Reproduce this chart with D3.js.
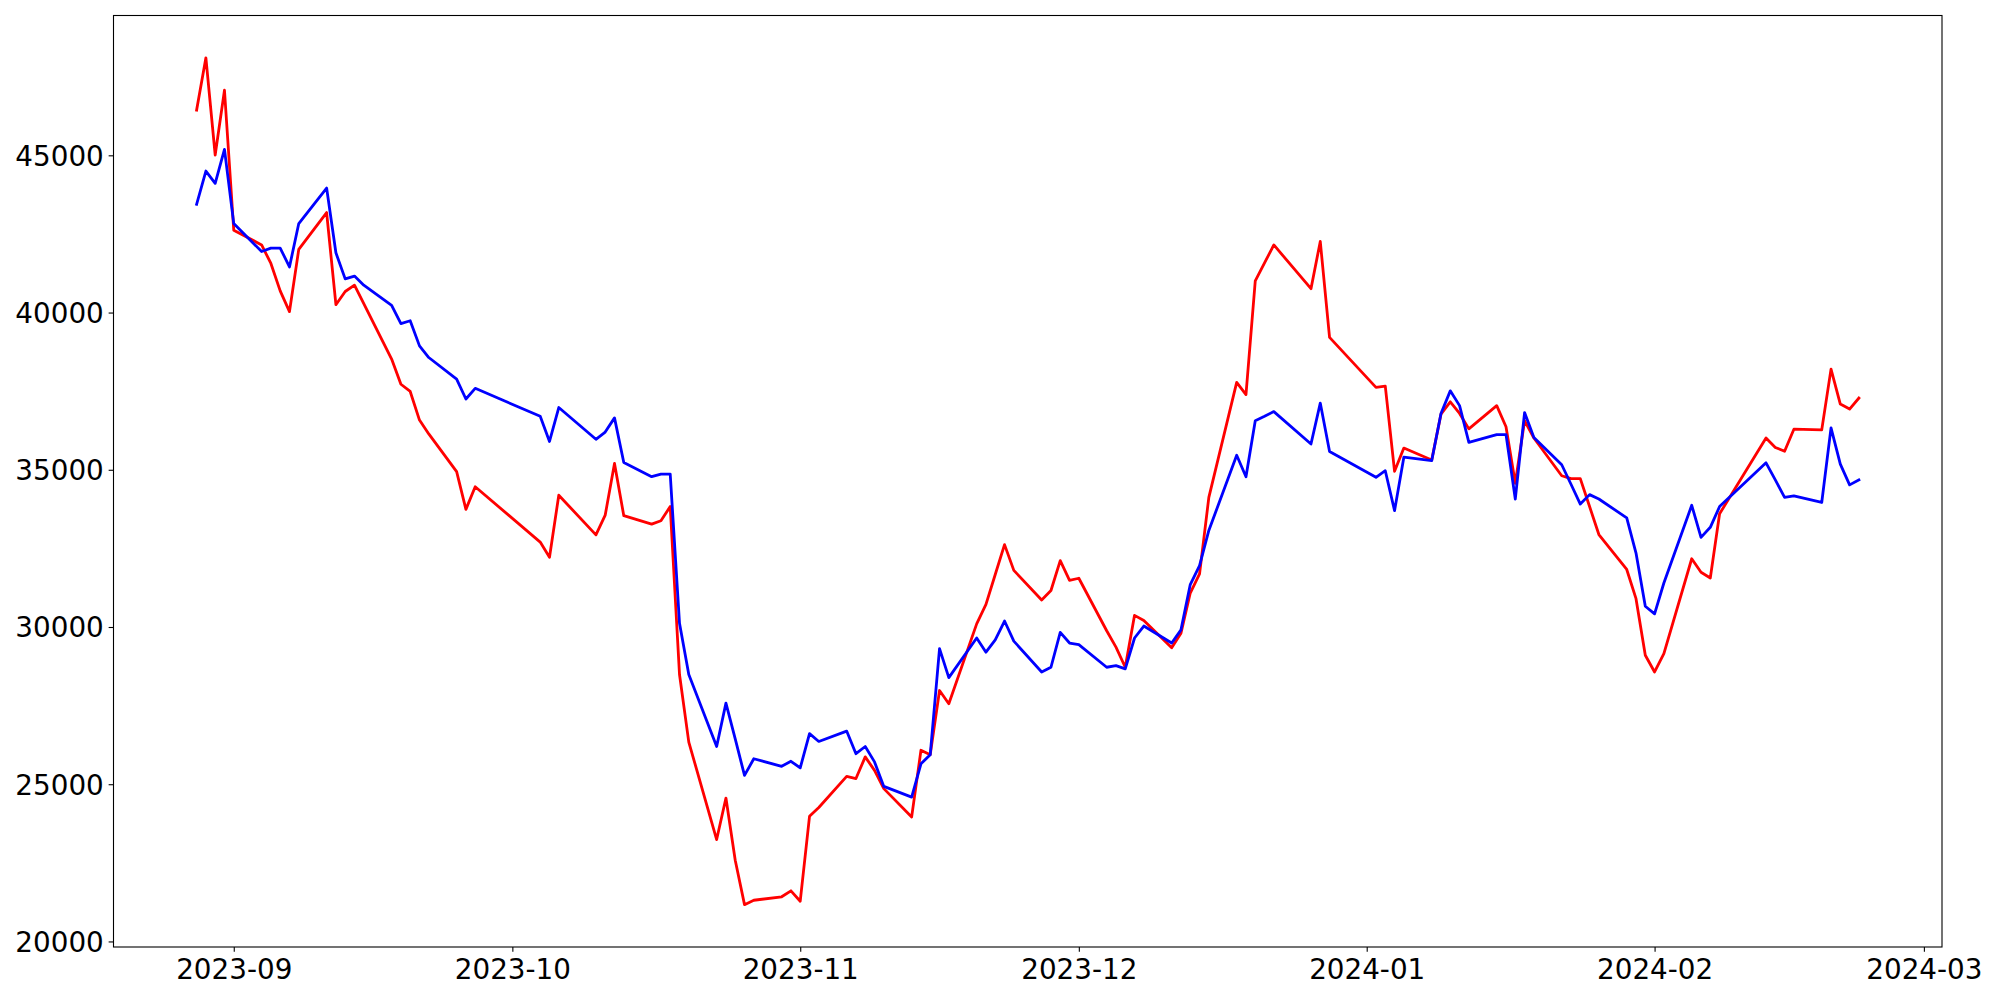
<!DOCTYPE html>
<html>
<head>
<meta charset="utf-8">
<script src="https://cdn.jsdelivr.net/npm/d3@7"></script>
<style>
  html, body { margin: 0; padding: 0; background: #ffffff; }
  svg { display: block; }
  text { font-family: "DejaVu Sans", sans-serif; fill: #000; }
</style>
</head>
<body>
<svg id="chart" width="2000" height="1000"></svg>
<script>
// ---- data ----
const dates = [
  "2023-08-28","2023-08-29","2023-08-30","2023-08-31",
  "2023-09-01","2023-09-04","2023-09-05","2023-09-06","2023-09-07","2023-09-08",
  "2023-09-11","2023-09-12","2023-09-13","2023-09-14","2023-09-15",
  "2023-09-18","2023-09-19","2023-09-20","2023-09-21","2023-09-22",
  "2023-09-25","2023-09-26","2023-09-27",
  "2023-10-04","2023-10-05","2023-10-06",
  "2023-10-10","2023-10-11","2023-10-12","2023-10-13",
  "2023-10-16","2023-10-17","2023-10-18","2023-10-19","2023-10-20",
  "2023-10-23","2023-10-24","2023-10-25","2023-10-26","2023-10-27",
  "2023-10-30","2023-10-31","2023-11-01","2023-11-02","2023-11-03",
  "2023-11-06","2023-11-07","2023-11-08","2023-11-09","2023-11-10",
  "2023-11-13","2023-11-14","2023-11-15","2023-11-16","2023-11-17",
  "2023-11-20","2023-11-21","2023-11-22","2023-11-23","2023-11-24",
  "2023-11-27","2023-11-28","2023-11-29","2023-11-30","2023-12-01",
  "2023-12-04","2023-12-05","2023-12-06","2023-12-07","2023-12-08",
  "2023-12-11","2023-12-12","2023-12-13","2023-12-14","2023-12-15",
  "2023-12-18","2023-12-19","2023-12-20","2023-12-21","2023-12-22",
  "2023-12-26","2023-12-27","2023-12-28",
  "2024-01-02","2024-01-03","2024-01-04","2024-01-05",
  "2024-01-08","2024-01-09","2024-01-10","2024-01-11","2024-01-12",
  "2024-01-15","2024-01-16","2024-01-17","2024-01-18","2024-01-19",
  "2024-01-22","2024-01-23","2024-01-24","2024-01-25","2024-01-26",
  "2024-01-29","2024-01-30","2024-01-31","2024-02-01","2024-02-02",
  "2024-02-05","2024-02-06","2024-02-07","2024-02-08",
  "2024-02-13","2024-02-14","2024-02-15","2024-02-16",
  "2024-02-19","2024-02-20","2024-02-21","2024-02-22","2024-02-23"
];

const redValues = [
  46440,48100,45010,47070,
  42620,42150,41560,40690,40030,42010,
  43180,40250,40670,40870,40280,
  38520,37720,37490,36580,36140,
  34940,33740,34460,
  32700,32220,34190,
  32930,33560,35200,33540,
  33270,33380,33830,28490,26340,
  23240,24560,22580,21170,21310,
  21420,21610,21280,23980,24260,
  25250,25180,25870,25440,24860,
  23960,26080,25940,27980,27560,
  30100,30720,31670,32620,31800,
  30860,31160,32110,31480,31550,
  29880,29360,28720,30370,30210,
  29340,29800,31080,31690,34120,
  37780,37390,41010,41580,42150,
  40760,42260,39210,
  37620,37660,34950,35690,
  35310,36770,37160,36790,36300,
  37040,36370,34570,36560,36010,
  34810,34720,34720,33830,32940,
  31830,30900,29100,28570,29150,
  32170,31740,31560,33600,
  36010,35710,35590,36290,
  36270,38200,37090,36930,37280
];

const blueValues = [
  43440,44500,44110,45190,
  42830,41940,42050,42050,41450,42830,
  43960,41900,41070,41160,40870,
  40230,39650,39740,38940,38570,
  37880,37250,37590,
  36700,35900,36980,
  35970,36200,36650,35230,
  34780,34860,34860,30120,28490,
  26200,27580,26440,25280,25810,
  25570,25730,25520,26610,26360,
  26690,25970,26200,25710,24930,
  24590,25650,25940,29310,28390,
  29650,29200,29590,30190,29550,
  28570,28720,29830,29490,29440,
  28720,28770,28670,29650,30030,
  29490,29910,31350,31950,33070,
  35460,34780,36560,36700,36850,
  35820,37120,35580,
  34760,34970,33700,35400,
  35290,36790,37510,37040,35870,
  36120,36120,34070,36820,36030,
  35160,34540,33910,34210,34070,
  33470,32350,30660,30420,31400,
  33870,32850,33170,33830,
  35220,34680,34120,34170,
  33960,36330,35180,34520,34680
];

const yTicks = [20000, 25000, 30000, 35000, 40000, 45000];
const xTickLabels = ["2023-09","2023-10","2023-11","2023-12","2024-01","2024-02","2024-03"];

// ---- layout ----
const W = 2000, H = 1000;
const plot = { left: 113.5, right: 1942, top: 15.5, bottom: 947 };
const fontPx = 27.8;
const tickLen = 4.86, tickPad = 4.86;

const parse = d3.timeParse("%Y-%m-%d");
const parseMonth = d3.timeParse("%Y-%m");
const fmtMonth = d3.timeFormat("%Y-%m");
const t = dates.map(parse);

// matplotlib-style 5% margins
const [t0, t1] = d3.extent(t);
const padT = (t1 - t0) * 0.05;
const allVals = redValues.concat(blueValues);
const [v0, v1] = d3.extent(allVals);
const padV = (v1 - v0) * 0.05;

const x = d3.scaleTime()
  .domain([new Date(+t0 - padT), new Date(+t1 + padT)])
  .range([plot.left, plot.right]);
const y = d3.scaleLinear()
  .domain([v0 - padV, v1 + padV])
  .range([plot.bottom, plot.top]);

const svg = d3.select("#chart");
svg.append("rect").attr("width", W).attr("height", H).attr("fill", "#fff");

svg.append("defs").append("clipPath").attr("id", "clip")
  .append("rect")
  .attr("x", plot.left).attr("y", plot.top)
  .attr("width", plot.right - plot.left).attr("height", plot.bottom - plot.top);

const line = d3.line().x(d => x(d[0])).y(d => y(d[1]));
const g = svg.append("g").attr("clip-path", "url(#clip)");
const series = [
  { values: redValues, color: "#ff0000" },
  { values: blueValues, color: "#0000ff" }
];
series.forEach(s => {
  g.append("path")
    .datum(t.map((d, i) => [d, s.values[i]]))
    .attr("d", line)
    .attr("fill", "none")
    .attr("stroke", s.color)
    .attr("stroke-width", 2.8)
    .attr("stroke-linejoin", "round")
    .attr("stroke-linecap", "square");
});

// axes
const xAxis = d3.axisBottom(x)
  .tickValues(xTickLabels.map(parseMonth))
  .tickFormat(fmtMonth)
  .tickSize(tickLen).tickPadding(tickPad);
const yAxis = d3.axisLeft(y)
  .tickValues(yTicks)
  .tickFormat(d3.format("d"))
  .tickSize(tickLen).tickPadding(tickPad);

const gx = svg.append("g").attr("transform", `translate(0,${plot.bottom})`).call(xAxis);
const gy = svg.append("g").attr("transform", `translate(${plot.left},0)`).call(yAxis);

[gx, gy].forEach(a => {
  a.select(".domain").remove();
  a.selectAll(".tick line").attr("stroke", "#000").attr("stroke-width", 1.1);
  a.selectAll(".tick text")
    .style("font-family", "'DejaVu Sans', sans-serif")
    .style("font-size", fontPx + "px")
    .attr("fill", "#000");
});
gx.selectAll(".tick text").attr("dy", null).attr("y", 32.3)
  .attr("dominant-baseline", "alphabetic");
gy.selectAll(".tick text").attr("dy", null).attr("y", 10)
  .attr("x", -(tickLen + tickPad)).attr("dominant-baseline", "alphabetic");

// frame
svg.append("rect")
  .attr("x", plot.left).attr("y", plot.top)
  .attr("width", plot.right - plot.left).attr("height", plot.bottom - plot.top)
  .attr("fill", "none").attr("stroke", "#000").attr("stroke-width", 1.1);
</script>
</body>
</html>
